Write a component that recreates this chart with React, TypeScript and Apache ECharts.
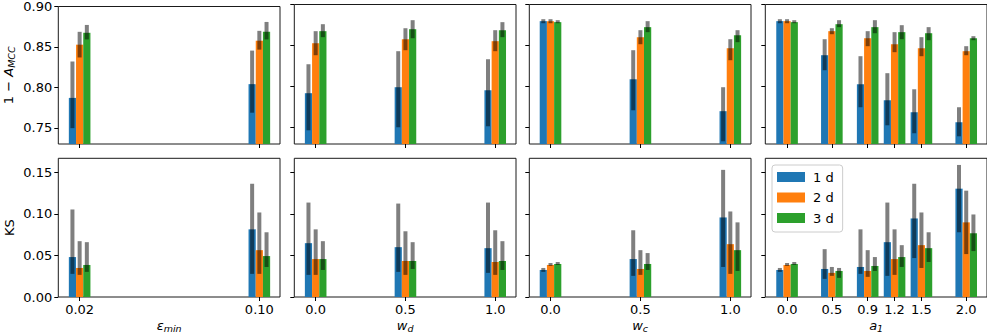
import React, { useEffect, useRef } from 'react';
import * as echarts from 'echarts';

// ---------- data ----------
const dimNames = ['1 d', '2 d', '3 d'];
const dimColors = ['#1f77b4', '#ff7f0e', '#2ca02c'];

// panel 1: eps_min
const epsMin = [0.02, 0.10];
const eps_mcc_1d = [0.787, 0.804];
const eps_mcc_1d_lo = [0.7496, 0.7687];
const eps_mcc_1d_hi = [0.832, 0.8455];
const eps_mcc_2d = [0.8528, 0.8577];
const eps_mcc_2d_lo = [0.837, 0.8467];
const eps_mcc_2d_hi = [0.8687, 0.8699];
const eps_mcc_3d = [0.8675, 0.8687];
const eps_mcc_3d_lo = [0.8593, 0.8593];
const eps_mcc_3d_hi = [0.8772, 0.8809];
const eps_ks_1d = [0.048, 0.0813];
const eps_ks_1d_lo = [0.0278, 0.0278];
const eps_ks_1d_hi = [0.1052, 0.1361];
const eps_ks_2d = [0.0349, 0.0563];
const eps_ks_2d_lo = [0.0266, 0.0278];
const eps_ks_2d_hi = [0.0671, 0.1016];
const eps_ks_3d = [0.0385, 0.0492];
const eps_ks_3d_lo = [0.0302, 0.0361];
const eps_ks_3d_hi = [0.0659, 0.0778];

// panel 2: w_d
const wd = [0.0, 0.5, 1.0];
const wd_mcc_1d = [0.7919, 0.7992, 0.7955];
const wd_mcc_1d_lo = [0.7467, 0.7504, 0.7516];
const wd_mcc_1d_hi = [0.8272, 0.8431, 0.8333];
const wd_mcc_2d = [0.8528, 0.8577, 0.8553];
const wd_mcc_2d_lo = [0.8382, 0.8443, 0.8431];
const wd_mcc_2d_hi = [0.8675, 0.8711, 0.8687];
const wd_mcc_3d = [0.8675, 0.8699, 0.8687];
const wd_mcc_3d_lo = [0.8602, 0.8589, 0.8602];
const wd_mcc_3d_hi = [0.876, 0.8809, 0.8785];
const wd_ks_1d = [0.0647, 0.0599, 0.0587];
const wd_ks_1d_lo = [0.0266, 0.0302, 0.029];
const wd_ks_1d_hi = [0.1135, 0.1123, 0.1135];
const wd_ks_2d = [0.0456, 0.0433, 0.0421];
const wd_ks_2d_lo = [0.0266, 0.0266, 0.0266];
const wd_ks_2d_hi = [0.0813, 0.079, 0.0802];
const wd_ks_3d = [0.0456, 0.0433, 0.0433];
const wd_ks_3d_lo = [0.0325, 0.0337, 0.0325];
const wd_ks_3d_hi = [0.0671, 0.0659, 0.0671];

// panel 3: w_c
const wc = [0.0, 0.5, 1.0];
const wc_mcc_1d = [0.8797, 0.8089, 0.77];
const wc_mcc_1d_lo = [0.8772, 0.7711, 0.7333];
const wc_mcc_1d_hi = [0.8821, 0.8443, 0.7992];
const wc_mcc_2d = [0.8797, 0.8602, 0.8467];
const wc_mcc_2d_lo = [0.8772, 0.8516, 0.8321];
const wc_mcc_2d_hi = [0.8821, 0.8687, 0.8577];
const wc_mcc_3d = [0.8785, 0.8724, 0.8626];
const wc_mcc_3d_lo = [0.8772, 0.8663, 0.8541];
const wc_mcc_3d_hi = [0.8809, 0.8797, 0.8687];
const wc_ks_1d = [0.0325, 0.0456, 0.0956];
const wc_ks_1d_lo = [0.0302, 0.0254, 0.0361];
const wc_ks_1d_hi = [0.0349, 0.0802, 0.1528];
const wc_ks_2d = [0.0385, 0.0337, 0.0635];
const wc_ks_2d_lo = [0.0373, 0.0266, 0.0278];
const wc_ks_2d_hi = [0.0409, 0.0563, 0.1028];
const wc_ks_3d = [0.0397, 0.0397, 0.0563];
const wc_ks_3d_lo = [0.0385, 0.0325, 0.0313];
const wc_ks_3d_hi = [0.0421, 0.0528, 0.0897];

// panel 4: a_1
const a1 = [0.0, 0.5, 0.9, 1.2, 1.5, 2.0];
const a1_mcc_1d = [0.8797, 0.8382, 0.8028, 0.7833, 0.7687, 0.7565];
const a1_mcc_1d_lo = [0.8772, 0.8199, 0.7748, 0.7528, 0.7431, 0.7394];
const a1_mcc_1d_hi = [0.8821, 0.8577, 0.837, 0.8163, 0.7967, 0.7748];
const a1_mcc_2d = [0.8797, 0.8675, 0.8589, 0.8516, 0.8467, 0.8431];
const a1_mcc_2d_lo = [0.8772, 0.8638, 0.8492, 0.8419, 0.837, 0.8382];
const a1_mcc_2d_hi = [0.8821, 0.8711, 0.8675, 0.8663, 0.8602, 0.8492];
const a1_mcc_3d = [0.8785, 0.876, 0.8724, 0.8663, 0.865, 0.8589];
const a1_mcc_3d_lo = [0.8772, 0.8724, 0.865, 0.8577, 0.8565, 0.8565];
const a1_mcc_3d_hi = [0.8809, 0.8809, 0.8809, 0.8748, 0.8724, 0.8614];
const a1_ks_1d = [0.0325, 0.0337, 0.0361, 0.0659, 0.0944, 0.1302];
const a1_ks_1d_lo = [0.0302, 0.0218, 0.0278, 0.0254, 0.0468, 0.0778];
const a1_ks_1d_hi = [0.0349, 0.0575, 0.0813, 0.1135, 0.1361, 0.1587];
const a1_ks_2d = [0.0385, 0.029, 0.0313, 0.0456, 0.0623, 0.0897];
const a1_ks_2d_lo = [0.0373, 0.0254, 0.0242, 0.0266, 0.0349, 0.0516];
const a1_ks_2d_hi = [0.0409, 0.0361, 0.0563, 0.0813, 0.1016, 0.1278];
const a1_ks_3d = [0.0397, 0.0313, 0.0373, 0.048, 0.0587, 0.0766];
const a1_ks_3d_lo = [0.0385, 0.023, 0.0313, 0.0361, 0.0421, 0.0552];
const a1_ks_3d_hi = [0.0421, 0.0349, 0.048, 0.0623, 0.0778, 0.0992];

// tick labels
const mccTicks = [0.75, 0.80, 0.85, 0.90];
const ksTicks = [0.00, 0.05, 0.10, 0.15];

// ---------- layout / style ----------
const FONT = 'DejaVu Sans';
const GRID_LEFT = [58.3, 294.3, 529.3, 765.3];
const GRID_W = 221.7;
const ROW_TOP = [4.5, 158.3];
const ROW_H = [139.5, 140];
const ROW_YMIN = [0.73, 0];
const ROW_YMAX = [0.90, 0.1667];
const BW = 7.2;
const EW = 4;

type Panel = {
  xs: number[];
  xRange: [number, number];
  decimals: number;
  xName: string;
  rows: { v: number[]; lo: number[]; hi: number[] }[][]; // [row][dim]
};

const panels: Panel[] = [
  {
    xs: epsMin, xRange: [0.0105, 0.1092], decimals: 2, xName: '{i|ε}{s|min}',
    rows: [
      [
        { v: eps_mcc_1d, lo: eps_mcc_1d_lo, hi: eps_mcc_1d_hi },
        { v: eps_mcc_2d, lo: eps_mcc_2d_lo, hi: eps_mcc_2d_hi },
        { v: eps_mcc_3d, lo: eps_mcc_3d_lo, hi: eps_mcc_3d_hi },
      ],
      [
        { v: eps_ks_1d, lo: eps_ks_1d_lo, hi: eps_ks_1d_hi },
        { v: eps_ks_2d, lo: eps_ks_2d_lo, hi: eps_ks_2d_hi },
        { v: eps_ks_3d, lo: eps_ks_3d_lo, hi: eps_ks_3d_hi },
      ],
    ],
  },
  {
    xs: wd, xRange: [-0.119, 1.1157], decimals: 1, xName: '{i|w}{s|d}',
    rows: [
      [
        { v: wd_mcc_1d, lo: wd_mcc_1d_lo, hi: wd_mcc_1d_hi },
        { v: wd_mcc_2d, lo: wd_mcc_2d_lo, hi: wd_mcc_2d_hi },
        { v: wd_mcc_3d, lo: wd_mcc_3d_lo, hi: wd_mcc_3d_hi },
      ],
      [
        { v: wd_ks_1d, lo: wd_ks_1d_lo, hi: wd_ks_1d_hi },
        { v: wd_ks_2d, lo: wd_ks_2d_lo, hi: wd_ks_2d_hi },
        { v: wd_ks_3d, lo: wd_ks_3d_lo, hi: wd_ks_3d_hi },
      ],
    ],
  },
  {
    xs: wc, xRange: [-0.118, 1.115], decimals: 1, xName: '{i|w}{s|c}',
    rows: [
      [
        { v: wc_mcc_1d, lo: wc_mcc_1d_lo, hi: wc_mcc_1d_hi },
        { v: wc_mcc_2d, lo: wc_mcc_2d_lo, hi: wc_mcc_2d_hi },
        { v: wc_mcc_3d, lo: wc_mcc_3d_lo, hi: wc_mcc_3d_hi },
      ],
      [
        { v: wc_ks_1d, lo: wc_ks_1d_lo, hi: wc_ks_1d_hi },
        { v: wc_ks_2d, lo: wc_ks_2d_lo, hi: wc_ks_2d_hi },
        { v: wc_ks_3d, lo: wc_ks_3d_lo, hi: wc_ks_3d_hi },
      ],
    ],
  },
  {
    xs: a1, xRange: [-0.243, 2.232], decimals: 1, xName: '{i|a}{s|1}',
    rows: [
      [
        { v: a1_mcc_1d, lo: a1_mcc_1d_lo, hi: a1_mcc_1d_hi },
        { v: a1_mcc_2d, lo: a1_mcc_2d_lo, hi: a1_mcc_2d_hi },
        { v: a1_mcc_3d, lo: a1_mcc_3d_lo, hi: a1_mcc_3d_hi },
      ],
      [
        { v: a1_ks_1d, lo: a1_ks_1d_lo, hi: a1_ks_1d_hi },
        { v: a1_ks_2d, lo: a1_ks_2d_lo, hi: a1_ks_2d_hi },
        { v: a1_ks_3d, lo: a1_ks_3d_lo, hi: a1_ks_3d_hi },
      ],
    ],
  },
];

const tickStyle = { show: true, length: 4, inside: false, lineStyle: { color: '#000', width: 1 } };

const nameRich = {
  i: { fontStyle: 'italic', fontSize: 13, fontFamily: FONT, color: '#000', lineHeight: 15 },
  s: { fontStyle: 'italic', fontSize: 9.5, fontFamily: FONT, color: '#000', lineHeight: 6, verticalAlign: 'bottom' },
};

function buildOption() {
  const grid: any[] = [];
  const xAxis: any[] = [];
  const yAxis: any[] = [];
  const series: any[] = [];

  for (let r = 0; r < 2; r++) {
    for (let p = 0; p < 4; p++) {
      const idx = r * 4 + p;
      const panel = panels[p];
      grid.push({
        left: GRID_LEFT[p], top: ROW_TOP[r], width: GRID_W, height: ROW_H[r],
        show: true, borderColor: '#1a1a1a', borderWidth: 1, backgroundColor: 'transparent',
      });
      xAxis.push({
        type: 'value', gridIndex: idx, min: panel.xRange[0], max: panel.xRange[1],
        position: 'bottom',
        axisLine: { show: false, onZero: false },
        splitLine: { show: false },
        axisTick: { ...tickStyle, customValues: panel.xs },
        axisLabel: {
          show: r === 1, customValues: panel.xs, margin: 6,
          fontSize: 13, color: '#000', fontFamily: FONT,
          formatter: (v: number) => v.toFixed(panel.decimals),
        },
        name: r === 1 ? panel.xName : '',
        nameLocation: 'middle',
        nameGap: 21,
        nameTextStyle: { color: '#000', fontFamily: FONT, fontSize: 13, rich: nameRich },
      });
      const ticks = r === 0 ? mccTicks : ksTicks;
      yAxis.push({
        type: 'value', gridIndex: idx, min: ROW_YMIN[r], max: ROW_YMAX[r],
        position: 'left',
        axisLine: { show: false, onZero: false },
        splitLine: { show: false },
        axisTick: { ...tickStyle, customValues: ticks },
        axisLabel: {
          show: p === 0, customValues: ticks, margin: 6,
          fontSize: 13, color: '#000', fontFamily: FONT,
          formatter: (v: number) => v.toFixed(2),
        },
        name: p === 0 ? (r === 0 ? '1 − {i|A}{s|MCC}' : 'KS') : '',
        nameLocation: 'middle',
        nameGap: 42,
        nameTextStyle: { color: '#000', fontFamily: FONT, fontSize: 13, rich: nameRich },
      });

      for (let d = 0; d < 3; d++) {
        const s = panel.rows[r][d];
        const yMin = ROW_YMIN[r];
        series.push({
          type: 'custom',
          name: dimNames[d],
          xAxisIndex: idx,
          yAxisIndex: idx,
          itemStyle: { color: dimColors[d] },
          encode: { x: 0, y: 1 },
          data: panel.xs.map((x, i) => [x, s.v[i], s.lo[i], s.hi[i]]),
          renderItem: (_params: any, api: any) => {
            const x = api.value(0);
            const top = api.coord([x, api.value(1)]);
            const base = api.coord([x, yMin]);
            const pLo = api.coord([x, api.value(2)]);
            const pHi = api.coord([x, api.value(3)]);
            const cx = top[0] + (d - 1) * BW;
            return {
              type: 'group',
              children: [
                {
                  type: 'rect',
                  shape: { x: cx - BW / 2, y: top[1], width: BW, height: base[1] - top[1] },
                  style: { fill: dimColors[d] },
                },
                {
                  type: 'rect',
                  shape: { x: cx - EW / 2, y: pHi[1], width: EW, height: pLo[1] - pHi[1] },
                  style: { fill: 'rgba(0,0,0,0.5)' },
                },
              ],
            };
          },
        });
      }
    }
  }

  return {
    animation: false,
    textStyle: { fontFamily: FONT },
    grid,
    xAxis,
    yAxis,
    series,
    legend: {
      data: dimNames,
      orient: 'vertical',
      left: 772,
      top: 165,
      icon: 'rect',
      itemWidth: 28,
      itemHeight: 10,
      itemGap: 6.5,
      padding: [5, 9, 7, 5],
      backgroundColor: 'rgba(255,255,255,0.8)',
      borderColor: '#cccccc',
      borderWidth: 1,
      borderRadius: 3,
      textStyle: { fontSize: 13, color: '#000', fontFamily: FONT, lineHeight: 14, padding: [0, 0, 0, 3] },
      selectedMode: false,
    },
  };
}

export default function App() {
  const ref = useRef<HTMLDivElement>(null);
  useEffect(() => {
    if (!ref.current) return;
    const chart = echarts.init(ref.current, undefined, { renderer: 'svg' });
    chart.setOption(buildOption() as any);
    return () => chart.dispose();
  }, []);
  return (
    <div
      ref={ref}
      style={{ position: 'fixed', left: 0, top: 0, width: 987, height: 334, background: '#fff' }}
    />
  );
}
